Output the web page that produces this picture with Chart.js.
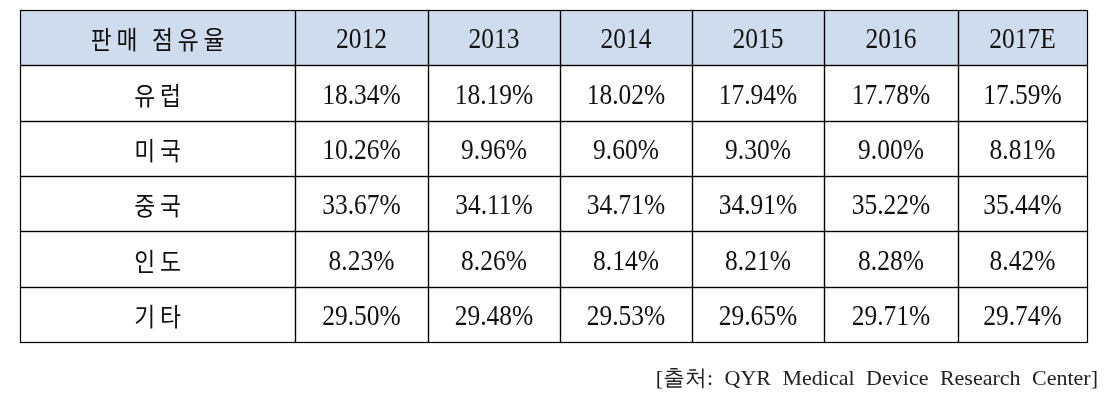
<!DOCTYPE html>
<html>
<head>
<meta charset="utf-8">
<script src="https://cdn.jsdelivr.net/npm/chart.js@4/dist/chart.umd.min.js"></script>
<style>
  html, body { margin: 0; padding: 0; background: #fff; }
  #wrap { width: 1108px; height: 413px; }
</style>
</head>
<body>
<div id="wrap"><canvas id="table-chart" width="1108" height="413"></canvas></div>
<script>
// 판매 점유율 (%) by region and year
var years = ['2012', '2013', '2014', '2015', '2016', '2017E'];
var regions = ['유럽', '미국', '중국', '인도', '기타'];
var europe = [18.34, 18.19, 18.02, 17.94, 17.78, 17.59];
var usa    = [10.26, 9.96, 9.60, 9.30, 9.00, 8.81];
var china  = [33.67, 34.11, 34.71, 34.91, 35.22, 35.44];
var india  = [8.23, 8.26, 8.14, 8.21, 8.28, 8.42];
var others = [29.50, 29.48, 29.53, 29.65, 29.71, 29.74];
var headerLabel = '판매 점유율';
var sourceNote = '[출처: QYR Medical Device Research Center]';

var rowValues = [europe, usa, china, india, others];

// column widths in table units (first column is the label column)
var colSpan = [275, 133, 132, 132, 132, 134, 129];
var total = colSpan.reduce(function(a, b){ return a + b; }, 0);

var rowLabels = [headerLabel].concat(regions);
var headerBg = '#cfdcee';

var datasets = colSpan.map(function(w, ci){
    return {
        label: ci == 0 ? headerLabel : years[ci - 1],
        data: rowLabels.map(function(){ return w; }),
        backgroundColor: rowLabels.map(function(r, ri){ return ri == 0 ? headerBg : '#ffffff'; }),
        borderWidth: 0,
        barPercentage: 1,
        categoryPercentage: 1
    };
});

function cellText(ri, ci) {
    if (ri == 0) return ci == 0 ? headerLabel : years[ci - 1];
    if (ci == 0) return regions[ri - 1];
    return rowValues[ri - 1][ci - 1].toFixed(2) + '%';
}

var korean = /[\uac00-\ud7a3]/;

var tablePlugin = {
    id: 'tableCells',
    afterDatasetsDraw: function(chart) {
        var ctx = chart.ctx;
        ctx.save();
        // grid lines
        ctx.strokeStyle = '#000';
        ctx.lineWidth = 1.2;
        chart.data.datasets.forEach(function(ds, ci){
            chart.getDatasetMeta(ci).data.forEach(function(bar, ri){
                var x0 = Math.round(Math.min(bar.base, bar.x)) + 0.5,
                    x1 = Math.round(Math.max(bar.base, bar.x)) + 0.5,
                    y0 = Math.round(bar.y - bar.height / 2) + 0.5,
                    y1 = Math.round(bar.y + bar.height / 2) + 0.5;
                ctx.strokeRect(x0, y0, x1 - x0, y1 - y0);
            });
        });
        // cell text
        ctx.textAlign = 'center';
        ctx.textBaseline = 'middle';
        ctx.fillStyle = '#111';
        chart.data.datasets.forEach(function(ds, ci){
            chart.getDatasetMeta(ci).data.forEach(function(bar, ri){
                var txt = cellText(ri, ci),
                    cx = (bar.base + bar.x) / 2,
                    cy = bar.y;
                ctx.save();
                if (korean.test(txt)) {
                    ctx.font = '24px "Noto Sans CJK KR"';
                    ctx.letterSpacing = '5px';
                    ctx.translate(cx + 2.5, cy + 2);
                    ctx.scale(0.95, 1.05);
                    ctx.fillText(txt, 0, 0);
                } else {
                    ctx.font = '26px "Liberation Serif"';
                    ctx.letterSpacing = '0px';
                    ctx.translate(cx, cy + 3);
                    ctx.scale(0.98, 1.12);
                    ctx.fillText(txt, 0, 0);
                }
                ctx.restore();
            });
        });
        // source note
        var area = chart.chartArea;
        ctx.textAlign = 'right';
        ctx.font = '22px "Liberation Serif"';
        ctx.letterSpacing = '0px';
        ctx.wordSpacing = '6px';
        ctx.fillStyle = '#222';
        ctx.fillText(sourceNote, area.right + 11, area.bottom + 37);
        ctx.restore();
    }
};

new Chart(document.getElementById('table-chart'), {
    type: 'bar',
    data: { labels: rowLabels, datasets: datasets },
    options: {
        indexAxis: 'y',
        responsive: false,
        animation: false,
        events: [],
        layout: { padding: { left: 20, top: 10, right: 21, bottom: 71 } },
        scales: {
            x: { stacked: true, min: 0, max: total, display: false },
            y: { stacked: true, display: false }
        },
        plugins: { legend: { display: false }, tooltip: { enabled: false } }
    },
    plugins: [tablePlugin]
});
</script>
</body>
</html>
